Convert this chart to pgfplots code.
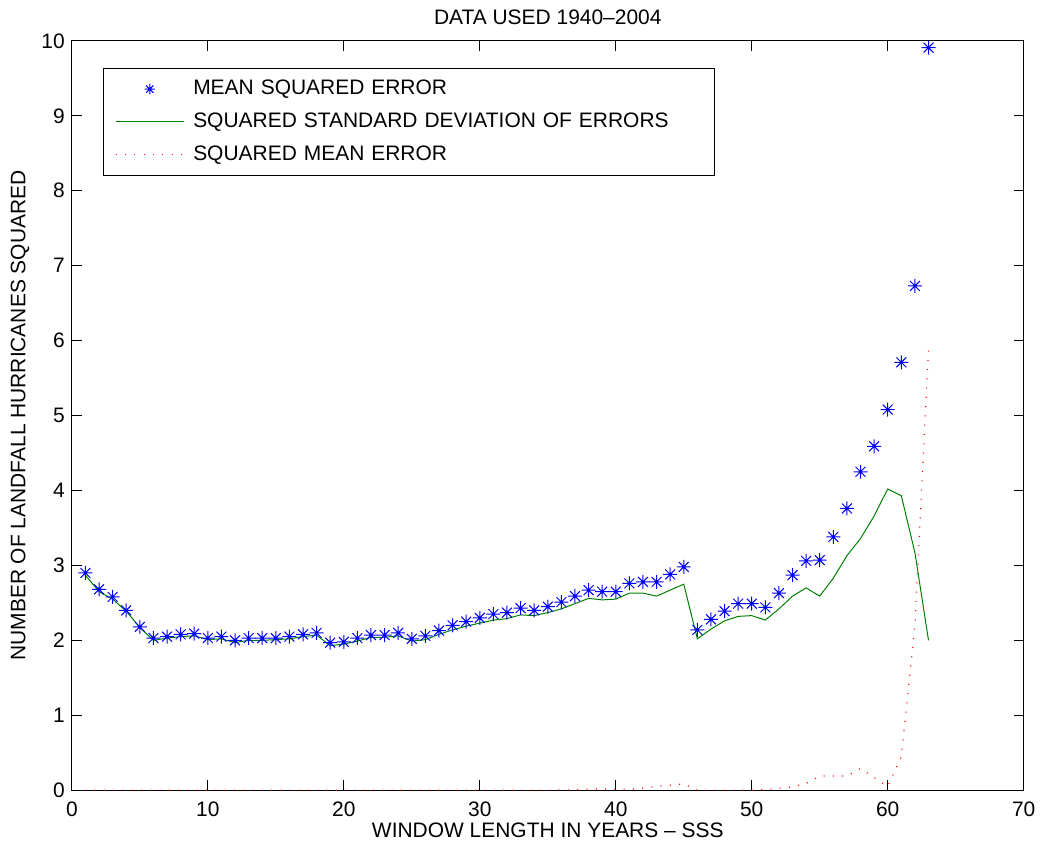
\documentclass[border=0pt]{standalone}
\usepackage{fontspec}
\setmainfont{Liberation Sans}
\usepackage{pgfplots}
\pgfplotsset{compat=1.18}
\definecolor{mblue}{rgb}{0,0,1}
\definecolor{mgreen}{rgb}{0,0.5,0}
\definecolor{mred}{rgb}{1,0,0}
\pgfdeclareplotmark{mstar}{%
  \pgfpathmoveto{\pgfpoint{-\pgfplotmarksize}{0pt}}\pgfpathlineto{\pgfpoint{\pgfplotmarksize}{0pt}}%
  \pgfpathmoveto{\pgfpoint{0pt}{-\pgfplotmarksize}}\pgfpathlineto{\pgfpoint{0pt}{\pgfplotmarksize}}%
  \pgfpathmoveto{\pgfpoint{-0.7071\pgfplotmarksize}{-0.7071\pgfplotmarksize}}\pgfpathlineto{\pgfpoint{0.7071\pgfplotmarksize}{0.7071\pgfplotmarksize}}%
  \pgfpathmoveto{\pgfpoint{-0.7071\pgfplotmarksize}{0.7071\pgfplotmarksize}}\pgfpathlineto{\pgfpoint{0.7071\pgfplotmarksize}{-0.7071\pgfplotmarksize}}%
  \pgfusepathqstroke}
\pgfplotstableread{
x mse std me
1 2.90 2.87 0
2 2.68 2.65 0
3 2.58 2.55 0
4 2.40 2.39 0
5 2.18 2.17 0
6 2.03 2.00 0
7 2.05 2.03 0
8 2.08 2.05 0
9 2.09 2.06 0
10 2.03 2.01 0
11 2.05 2.02 0
12 2.00 1.97 0
13 2.03 2.00 0
14 2.03 2.00 0
15 2.03 2.01 0
16 2.05 2.02 0
17 2.08 2.05 0
18 2.10 2.07 0
19 1.97 1.93 0
20 1.98 1.95 0
21 2.03 1.99 0
22 2.07 2.04 0
23 2.07 2.04 0
24 2.10 2.06 0
25 2.02 1.99 0
26 2.06 2.01 0
27 2.13 2.08 0
28 2.20 2.14 0
29 2.25 2.19 0
30 2.30 2.23 0
31 2.35 2.27 0
32 2.37 2.29 0
33 2.43 2.34 0
34 2.40 2.33 0
35 2.45 2.37 0
36 2.51 2.42 0.002
37 2.59 2.49 0.005
38 2.67 2.56 0.013
39 2.65 2.54 0.018
40 2.65 2.55 0.010
41 2.76 2.63 0.013
42 2.78 2.63 0.027
43 2.78 2.59 0.053
44 2.88 2.67 0.067
45 2.98 2.75 0.084
46 2.14 2.02 0.0
47 2.28 2.15 0.0
48 2.39 2.26 0.0
49 2.49 2.32 0.0
50 2.49 2.33 0.0
51 2.44 2.27 0.010
52 2.63 2.42 0.025
53 2.87 2.59 0.045
54 3.06 2.70 0.09
55 3.07 2.59 0.19
56 3.38 2.83 0.19
57 3.76 3.13 0.19
58 4.25 3.36 0.29
59 4.59 3.66 0.17
60 5.08 4.02 0.05
61 5.71 3.93 0.45
62 6.73 3.17 2.20
63 9.91 2.00 5.88
}\datatable
\begin{document}
\begin{tikzpicture}
\begin{axis}[
  name=ax,
  scale only axis,
  width=477pt, height=375.5pt,
  xmin=0, xmax=70, ymin=0, ymax=10,
  xtick={0,10,...,70}, ytick={0,1,...,10},
  tick align=inside,
  major tick length=5pt,
  axis line style={line width=0.5pt},
  every tick/.style={black, line width=0.5pt},
  /pgf/number format/assume math mode=true,
  ticklabel style={font=\fontsize{10.5}{12}\selectfont},
  xticklabel style={yshift=-2.5pt},
  label style={font=\fontsize{10.5}{12}\selectfont},
  title style={font=\fontsize{10.5}{12}\selectfont, at={(axis description cs:0.5,1.032)}, anchor=center, yshift=-6pt},
  title={DATA USED 1940--2004},
  xlabel={WINDOW LENGTH IN YEARS -- SSS},
  ylabel={NUMBER OF LANDFALL HURRICANES SQUARED},
  xlabel style={at={(axis description cs:0.5,-0.053)}, anchor=center},
  ylabel style={at={(axis description cs:-0.0545,0.5)}, anchor=center, rotate=0},
  legend style={at={(axis description cs:0.0325,0.964)}, anchor=north west,
    draw=black, line width=0.5pt, inner xsep=6pt, inner ysep=4pt,
    font=\fontsize{10.5}{12}\selectfont, row sep=3.5pt, column sep=2.5pt,
    /tikz/column 2/.style={text width=253pt, anchor=west}},
  legend cell align=left,
]
\addplot[mblue, only marks, mark=mstar, mark size=3.5pt, line width=0.5pt,
  legend image code/.code={\draw[mblue, line width=0.5pt] plot[mark=mstar, mark size=2.6pt] coordinates {(17pt,0pt)}; \path (0pt,0pt) (34pt,0pt);}]
  table[x=x, y=mse] {\datatable};
\addlegendentry{MEAN SQUARED ERROR}
\addplot[mgreen, line width=0.5pt, mark=none,
  legend image code/.code={\draw[mgreen, line width=0.5pt] (0pt,0pt) -- (34pt,0pt);}]
  table[x=x, y=std] {\datatable};
\addlegendentry{SQUARED STANDARD DEVIATION OF ERRORS}
\addplot[mred, line width=0.6pt, mark=none, dash pattern=on 0.5pt off 4.15pt,
  legend image code/.code={\draw[mred, line width=0.6pt, dash pattern=on 0.5pt off 4.15pt] (0pt,0pt) -- (34pt,0pt);}]
  table[x=x, y=me] {\datatable};
\addlegendentry{SQUARED MEAN ERROR}
\end{axis}
\path (ax.south west) ++(-36pt,-28.5pt);
\path (ax.north east) ++(8pt,20.5pt);
\end{tikzpicture}
\end{document}
